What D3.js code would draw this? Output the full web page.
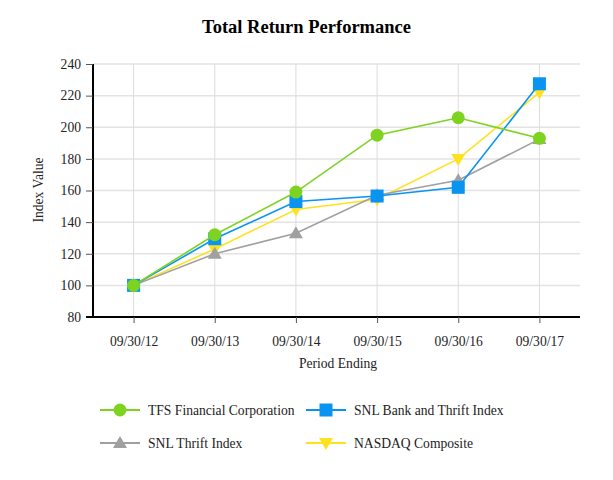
<!DOCTYPE html>
<html><head><meta charset="utf-8">
<script src="https://cdn.jsdelivr.net/npm/d3@7"></script>
<style>body{margin:0;background:#fff}svg{display:block}text{font-family:"Liberation Serif","Times New Roman",serif}</style>
</head><body>
<svg id="c" width="613" height="480"></svg>
<script>
const categories = ["09/30/12","09/30/13","09/30/14","09/30/15","09/30/16","09/30/17"];
const tfsValues = [100, 132, 159, 195, 206, 193];
const bankValues = [100, 129.5, 153, 156.5, 162, 227.5];
const thriftValues = [100, 120, 133, 157, 166.5, 192.5];
const nasdaqValues = [100, 123, 148, 154.5, 180, 222];
const yTicks = [80,100,120,140,160,180,200,220,240];
const seriesNames = ["TFS Financial Corporation","SNL Bank and Thrift Index","SNL Thrift Index","NASDAQ Composite"];

const series = [
  {name: seriesNames[3], values: nasdaqValues, color: "#FFE21F", marker: "down"},
  {name: seriesNames[2], values: thriftValues, color: "#A0A0A0", marker: "up"},
  {name: seriesNames[1], values: bankValues, color: "#0A94F2", marker: "square"},
  {name: seriesNames[0], values: tfsValues, color: "#7ED321", marker: "circle"}
];

const svg = d3.select("#c");
const pL = 93, pR = 580, pT = 64, pB = 317;
const fs = 13.6;
const x = d3.scalePoint().domain(categories).range([pL, pR]).padding(0.5);
const y = d3.scaleLinear().domain([80, 240]).range([pB, pT]);

svg.append("text").attr("x", 306.5).attr("y", 33).attr("text-anchor","middle")
  .attr("font-size", 18.5).attr("font-weight","bold").text("Total Return Performance");

// gridlines
svg.append("g").selectAll("line").data(yTicks.slice(1)).join("line")
  .attr("x1", pL).attr("x2", pR).attr("y1", d=>y(d)).attr("y2", d=>y(d))
  .attr("stroke", "#e3e3e3").attr("stroke-width", 1.5);
svg.append("g").selectAll("line").data(categories).join("line")
  .attr("x1", d=>x(d)).attr("x2", d=>x(d)).attr("y1", pT).attr("y2", pB)
  .attr("stroke", "#dcdcdc").attr("stroke-width", 1);

// axes
const yAxis = svg.append("g").attr("transform", `translate(${pL},0)`)
  .call(d3.axisLeft(y).tickValues(yTicks).tickSize(7).tickPadding(5));
yAxis.select(".domain").attr("stroke","#000").attr("stroke-width",2).attr("d", `M0,${pT}V${pB}`);
yAxis.selectAll(".tick line").attr("stroke","#555");
yAxis.selectAll("text").attr("font-size", fs).attr("fill","#222").attr("font-family","Liberation Serif, serif");

const xAxis = svg.append("g").attr("transform", `translate(0,${pB})`)
  .call(d3.axisBottom(x).tickSize(6).tickPadding(13));
xAxis.select(".domain").attr("stroke","#000").attr("stroke-width",2).attr("d", `M${pL-7},0H${pR}`);
xAxis.selectAll(".tick line").attr("stroke","#555");
xAxis.selectAll("text").attr("font-size", fs).attr("fill","#222").attr("font-family","Liberation Serif, serif");

svg.append("text").attr("x", 338).attr("y", 368).attr("text-anchor","middle")
  .attr("font-size", fs).attr("fill","#222").text("Period Ending");
svg.append("text").attr("transform", "translate(43,190) rotate(-90)").attr("text-anchor","middle")
  .attr("font-size", fs).attr("fill","#222").text("Index Value");

function drawMarker(g, type, cx, cy, color) {
  if (type === "circle") g.append("circle").attr("cx", cx).attr("cy", cy).attr("r", 6.5).attr("fill", color);
  else if (type === "square") g.append("rect").attr("x", cx-6.5).attr("y", cy-6.5).attr("width", 13).attr("height", 13).attr("fill", color);
  else if (type === "up") g.append("path").attr("d", `M${cx},${cy-7}L${cx+7},${cy+5}L${cx-7},${cy+5}Z`).attr("fill", color);
  else g.append("path").attr("d", `M${cx},${cy+7}L${cx+7},${cy-5}L${cx-7},${cy-5}Z`).attr("fill", color);
}

const line = d3.line().x((d,i)=>x(categories[i])).y(d=>y(d));
series.forEach(s => {
  const g = svg.append("g");
  g.append("path").attr("d", line(s.values)).attr("fill","none").attr("stroke", s.color).attr("stroke-width", 1.6);
  s.values.forEach((v,i) => drawMarker(g, s.marker, x(categories[i]), y(v), s.color));
});

// legend
const legendItems = [
  {s: series[3], lx: 100, ly: 410},
  {s: series[2], lx: 306, ly: 410},
  {s: series[1], lx: 100, ly: 443},
  {s: series[0], lx: 306, ly: 443}
];
legendItems.forEach(it => {
  const g = svg.append("g");
  g.append("line").attr("x1", it.lx).attr("x2", it.lx+40).attr("y1", it.ly).attr("y2", it.ly)
    .attr("stroke", it.s.color).attr("stroke-width", 2);
  drawMarker(g, it.s.marker, it.lx+20, it.ly, it.s.color);
  g.append("text").attr("x", it.lx+48).attr("y", it.ly+4.5).attr("font-size", fs).attr("fill","#222").text(it.s.name);
});
</script>
</body></html>
